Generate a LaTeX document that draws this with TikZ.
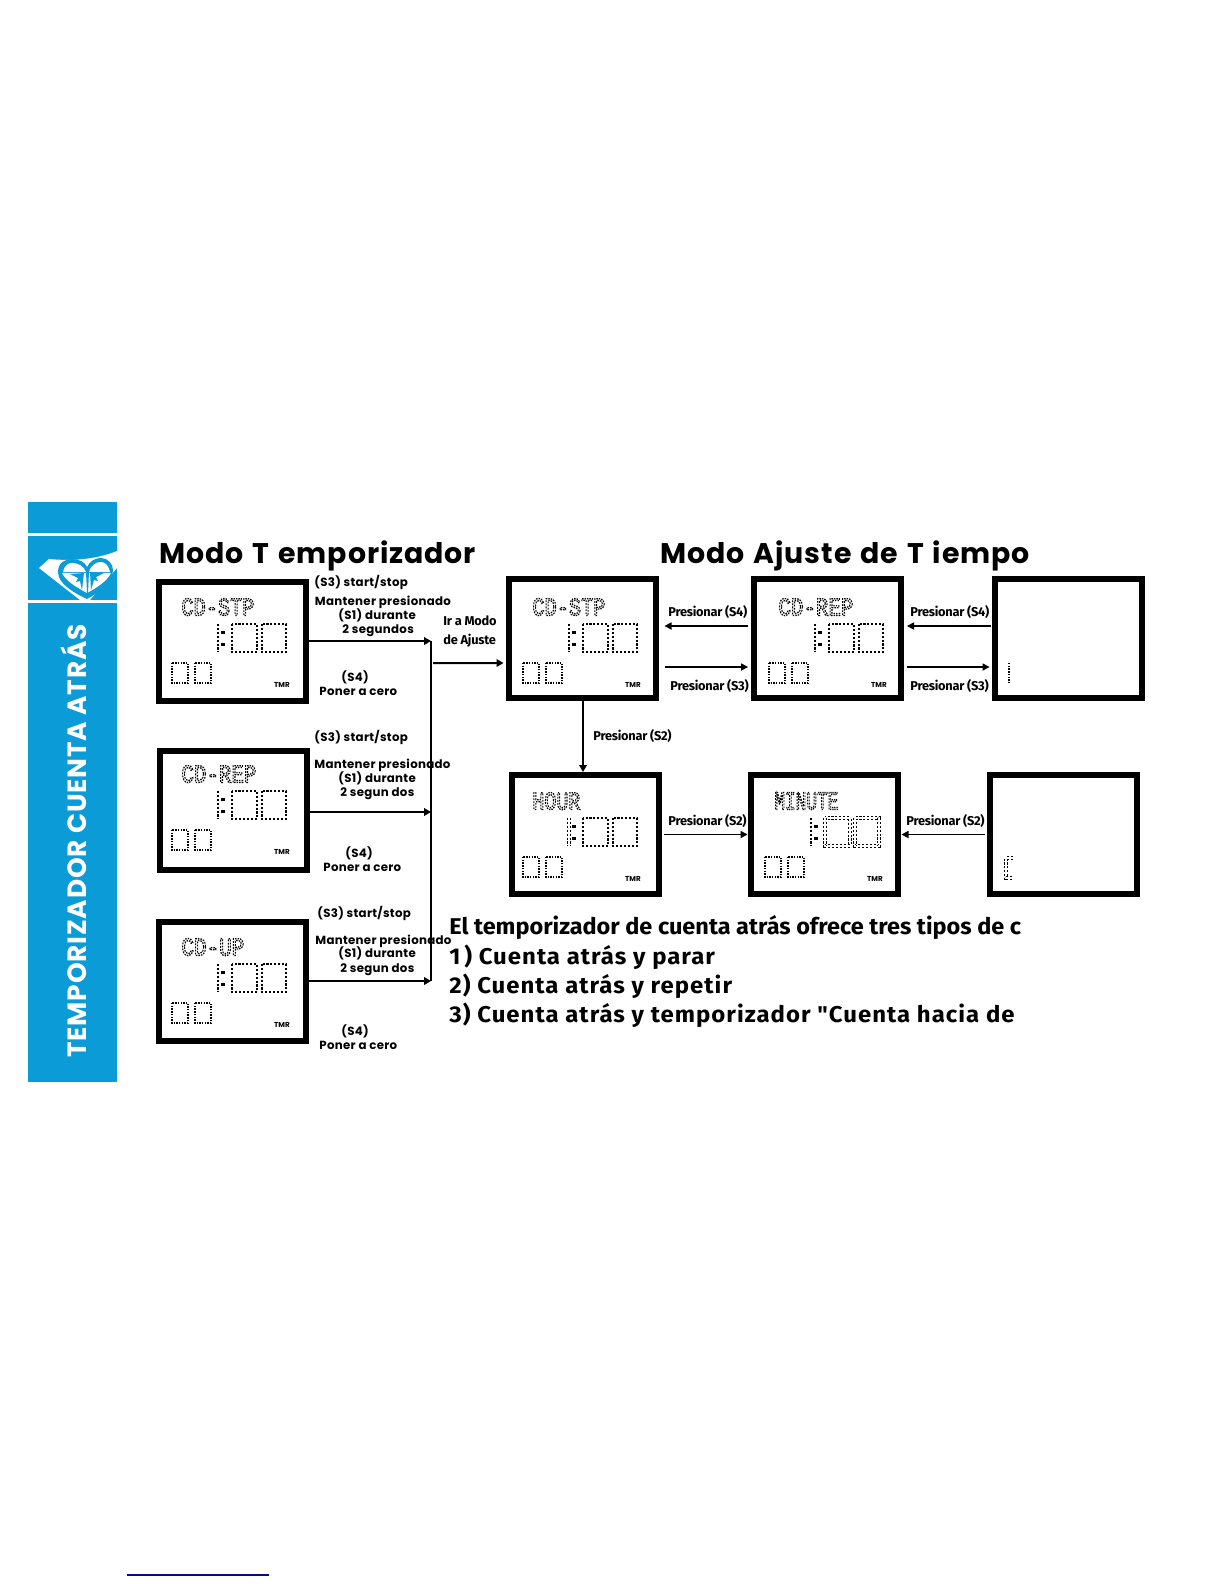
\documentclass[tikz,border=0pt]{standalone}
\usepackage{fontspec}
\usepackage{graphicx}
\usetikzlibrary{arrows.meta}
\setmainfont{Poppins}
\newfontfamily\bandfont[LetterSpace=3]{Poppins}
\newfontfamily\headfont[LetterSpace=3.2,WordSpace=1.3]{Poppins}
\newfontfamily\keyfont[LetterSpace=2.5]{Poppins}
\newfontfamily\pressfont[LetterSpace=-2]{Fira Sans}
\newfontfamily\bodyfont[FakeStretch=1.05,LetterSpace=4.5]{Fira Sans}
\newfontfamily\bodytight[FakeStretch=1.03]{Fira Sans}
\newfontfamily\lcdfont{Liberation Mono}
\definecolor{roxyblue}{RGB}{11,155,214}
\definecolor{linknavy}{RGB}{10,10,130}
\newcommand{\lcdtitle}[2]{\resizebox{\dimexpr#1bp/2\relax}{8.5bp}{\lcdfont\special{pdf:code q 1 Tr 0.5 w [0.7 0.5] 0 d}#2\special{pdf:code Q}}}
\tikzset{
  lcdbox/.style={draw, line width=3bp, minimum width=73.5bp, minimum height=59.5bp, inner sep=0pt},
  bigdots/.style={line width=1.3bp, dash pattern=on 1.05bp off 0.9bp},
  colondots/.style={line width=1.6bp},
  smalldots/.style={line width=0.85bp, dash pattern=on 0.7bp off 0.65bp},
  hollowbase/.style={line width=1.6bp, dash pattern=on 1.05bp off 0.9bp},
  hollowcore/.style={white, line width=0.55bp, dash pattern=on 1.05bp off 0.9bp},
  heavylink/.style={line width=1bp, -{Triangle[length=3.5bp,width=3.8bp]}},
  thinlink/.style={line width=0.55bp, -{Triangle[length=3.5bp,width=3.6bp]}},
  keylabel/.style={anchor=west, inner sep=0pt, text height=5bp, text depth=1bp, font=\keyfont\fontsize{5.9bp}{7bp}\selectfont\bfseries},
  presslabel/.style={anchor=west, inner sep=0pt, text height=5.2bp, text depth=1bp, font=\pressfont\fontsize{6.4bp}{8bp}\selectfont\bfseries},
  headlabel/.style={anchor=base west, inner sep=0pt, font=\headfont\fontsize{14.2bp}{16bp}\selectfont\bfseries},
  bodylabel/.style={anchor=base west, inner sep=0pt, font=\bodyfont\fontsize{11.4bp}{13bp}\selectfont\bfseries}
}
\begin{document}
\begin{tikzpicture}[x=0.5bp, y=-0.5bp]
  \useasboundingbox (0,0) rectangle (1224,1584);
  % side band
  \fill[roxyblue] (28,502) rectangle (117,533);
  \fill[roxyblue] (28,536) rectangle (117,600);
  \fill[roxyblue] (28,603) rectangle (117,1082);
  \node[rotate=90, anchor=west, inner sep=0pt, white, font=\bandfont\fontsize{13.2bp}{15bp}\selectfont\bfseries] (bandtext) at (73.5,1058) {TEMPORIZADOR CUENTA ATRÁS};
  % logo
  \fill[white] (39,568) -- (49,559) .. controls (70,561) and (95,560) .. (117,551) -- (117,568) -- (90,600) -- (80,600) -- cycle;
  \fill[roxyblue] (87,599) .. controls (72,592) and (58,583) .. (58,572) .. controls (58,562) and (66,559) .. (72,559) .. controls (79,559) and (85,562) .. (87,567) .. controls (90,561) and (95,558) .. (101,558) .. controls (108,558) and (113,564) .. (113,570) .. controls (113,582) and (100,592) .. (87,599) -- cycle;
  \fill[white] (87,593) .. controls (76,587) and (66,581) .. (62,573) -- (111,573) .. controls (107,581) and (98,587) .. (87,593) -- cycle;
  \fill[white] (63,572) .. controls (64,566) and (68,563) .. (72,563) .. controls (78,563) and (84,566) .. (86,572) -- cycle;
  \fill[white] (89,572) .. controls (91,565) and (96,562) .. (101,562) .. controls (105,562) and (109,566) .. (110,572) -- cycle;
  \fill[roxyblue] (86,572) -- (89,572) -- (88,593) -- (87,593) -- cycle;
  \fill[roxyblue] (70,574) -- (84,573) -- (82,590) -- (80,581) -- (76,582) -- (78,578) -- cycle;
  \fill[roxyblue] (104,573) -- (90,572) -- (91,590) -- (94,580) -- (98,581) -- (96,577) -- cycle;
  % headings
  \node[headlabel] (modotimer) at (159,563) {Modo T emporizador};
  \node[headlabel] (modoset) at (660,563) {Modo Ajuste de T iempo};
  % panels
  \foreach \name/\cx/\cy in {timerstp/232.5/641, timerrep/233.5/810, timerup/232.5/981, setstp/582/638.5, setrep/827.5/638.5, setup/1068/638.5, sethour/585/834.5, setminute/824/834.5, setsecond/1063.5/834.5} {
    \node[lcdbox] (\name) at (\cx,\cy) {};
  }
  % display contents
  \foreach \ox/\oy/\tw/\ttl in {172/663/73/CD-STP, 172/830/75/CD-REP, 172/1003/63/CD-UP, 523/663/73/CD-STP, 769/663/75/CD-REP, 523/857/48/HOUR, 765/857/64/MINUTE} {
    \begin{scope}[shift={(\ox,\oy)}]
      \node[anchor=north west, inner sep=0pt] (title\ox\oy) at (9,-65) {\lcdtitle{\tw}{\ttl}};
      \draw[bigdots] (46,-39) -- (46,-11);
      \draw[colondots] (51,-32) -- (51,-29) (51,-20) -- (51,-17);
      \draw[bigdots] (60,-39) rectangle (85,-11);
      \draw[bigdots] (90,-39) rectangle (114,-11);
      \draw[smalldots] (0,0) rectangle (16,20);
      \draw[smalldots] (23,0) rectangle (39,20);
      \node[inner sep=0pt, font=\fontsize{3.6bp}{4bp}\selectfont\bfseries] (tmr\ox\oy) at (110,22) {TMR};
    \end{scope}
  }
  % digits being set
  \draw[hollowbase] (569,818) -- (569,846);
  \draw[hollowcore] (569,818) -- (569,846);
  \draw[hollowbase] (825,818) rectangle (850,846);
  \draw[hollowcore] (825,818) rectangle (850,846);
  \draw[hollowbase] (855,818) rectangle (879,846);
  \draw[hollowcore] (855,818) rectangle (879,846);
  \draw[smalldots] (1009,663) -- (1009,683);
  \draw[hollowbase] (1012,878) -- (1006,878) -- (1006,858) -- (1013,858);
  \draw[hollowcore] (1012,878) -- (1006,878) -- (1006,858) -- (1013,858);
  % mode keys
  \foreach \x/\y/\lab [count=\n] in {314/582/{(S3) start/stop}, 314.5/601/Mantener presionado, 338/615/(S1) durante, 342/629/2 segundos, 341/677/(S4), 319/691/Poner a cero,
    314/737/{(S3) start/stop}, 314/764/Mantener presionado, 338/778/(S1) durante, 340/792/2 segun dos, 345/853/(S4), 323/867/Poner a cero,
    317/913/{(S3) start/stop}, 315/940/Mantener presionado, 338/953/(S1) durante, 340/968/2 segun dos, 341/1031/(S4), 319/1045/Poner a cero} {
    \node[keylabel] (key\n) at (\x,\y) {\lab};
  }
  % set keys
  \foreach \x/\y/\lab [count=\n] in {443/621/Ir a Modo, 443/640/de Ajuste, 668/612/Presionar (S4), 910/612/Presionar (S4), 670/686/Presionar (S3), 910/686/Presionar (S3), 593/736/Presionar (S2), 668/821/Presionar (S2), 906/821/Presionar (S2)} {
    \node[presslabel] (press\n) at (\x,\y) {\lab};
  }
  % bus
  \coordinate (bustop) at (431,641);
  \coordinate (busmid) at (431,812);
  \coordinate (busend) at (431,981);
  \coordinate (busout) at (433,663);
  \draw[line width=1bp] (bustop) -- (busend);
  \draw[heavylink] (timerstp.east) -- (bustop);
  \draw[heavylink] (timerrep.east |- busmid) -- (busmid);
  \draw[heavylink] (timerup.east) -- (busend);
  \draw[heavylink] (busout) -- ([yshift=-12.25bp, xshift=-1bp]setstp.west);
  \draw[heavylink, line width=1.2bp] ([xshift=0.5bp]setstp.south) -- ([xshift=0.5bp]sethour.north -| setstp.south);
  % set links
  \draw[thinlink, shorten <=1.5bp, shorten >=3bp] ([yshift=6.25bp]setrep.west) -- ([yshift=6.25bp]setstp.east);
  \draw[thinlink, shorten <=3bp, shorten >=1.5bp] ([yshift=-14.25bp]setstp.east) -- ([yshift=-14.25bp]setrep.west);
  \draw[thinlink, shorten <=0.5bp, shorten >=1.5bp] ([yshift=6.25bp]setup.west) -- ([yshift=6.25bp]setrep.east);
  \draw[thinlink, shorten <=1.5bp, shorten >=1bp] ([yshift=-14.25bp]setrep.east) -- ([yshift=-14.25bp]setup.west);
  \draw[thinlink, shorten <=1bp] (sethour.east) -- (setminute.west);
  \draw[thinlink, shorten <=1bp, shorten >=0.5bp] (setsecond.west) -- (setminute.east);
  % text block
  \node[bodylabel, font=\bodytight\fontsize{11.4bp}{13bp}\selectfont\bfseries] (body1) at (449,934) {El temporizador de cuenta atrás ofrece tres tipos de c};
  \foreach \y/\lab [count=\n from 2] in {964/1\,) Cuenta atrás y parar, 993/2) Cuenta atrás y repetir, 1022/3) Cuenta atrás y temporizador "Cuenta hacia de} {
    \node[bodylabel] (body\n) at (449,\y) {\lab};
  }
  % link rule
  \coordinate (ruleleft) at (127,1575);
  \coordinate (ruleright) at (269,1575);
  \draw[linknavy, line width=0.6bp] (ruleleft) -- (ruleright);
\end{tikzpicture}
\end{document}
